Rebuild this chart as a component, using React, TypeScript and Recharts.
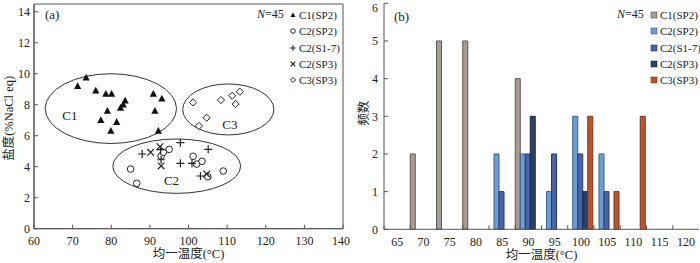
import React from "react";
import { ScatterChart, Scatter, XAxis, YAxis, ReferenceArea, ReferenceDot, BarChart, Bar } from "recharts";

const FONT = '"Liberation Serif", "Noto Sans CJK SC", serif';
const AXIS = "#555";
const INK = "#222";

// (a) homogenization temperature (°C) vs salinity (%NaCl eq)
const c1Sp2 = [
  { x: 71.3, y: 9.2 }, { x: 73.5, y: 9.74 }, { x: 76.0, y: 8.9 }, { x: 78.6, y: 8.69 },
  { x: 80.1, y: 8.69 }, { x: 83.6, y: 8.26 }, { x: 83.1, y: 8.0 }, { x: 82.4, y: 7.8 },
  { x: 79.0, y: 7.6 }, { x: 77.3, y: 7.0 }, { x: 81.4, y: 6.88 }, { x: 79.9, y: 6.3 },
  { x: 90.9, y: 8.69 }, { x: 93.1, y: 8.39 }, { x: 91.3, y: 7.6 }, { x: 92.2, y: 6.3 }
];
const c2Sp2 = [
  { x: 85.0, y: 3.85 }, { x: 86.6, y: 2.93 }, { x: 92.9, y: 4.69 }, { x: 93.5, y: 4.93 },
  { x: 95.0, y: 5.12 }, { x: 101.2, y: 4.67 }, { x: 102.1, y: 4.17 }, { x: 103.5, y: 4.35 },
  { x: 105.0, y: 3.35 }, { x: 109.0, y: 3.72 }
];
const c2S17 = [
  { x: 88.0, y: 4.82 }, { x: 92.9, y: 4.45 }, { x: 92.8, y: 5.1 }, { x: 97.9, y: 5.55 },
  { x: 97.9, y: 4.22 }, { x: 100.9, y: 4.22 }, { x: 105.1, y: 5.12 }, { x: 103.1, y: 3.4 }
];
const c2Sp3 = [
  { x: 90.2, y: 4.93 }, { x: 92.6, y: 5.29 }, { x: 92.9, y: 4.05 }, { x: 104.7, y: 3.53 }
];
const c3Sp3 = [
  { x: 101.2, y: 8.15 }, { x: 108.4, y: 8.3 }, { x: 111.3, y: 8.58 }, { x: 113.3, y: 8.84 },
  { x: 112.2, y: 8.05 }, { x: 104.7, y: 7.16 }, { x: 102.7, y: 6.63 }
];

// cluster outlines (bounding box in data units) and label spots
const clusters = [
  { name: "C1", x1: 62.9, x2: 96.9, y1: 5.5, y2: 10.0, lx: 69.3, ly: 7.3 },
  { name: "C2", x1: 80.4, x2: 113.5, y1: 2.28, y2: 5.79, lx: 95.6, ly: 3.14 },
  { name: "C3", x1: 98.5, x2: 122.1, y1: 6.05, y2: 9.34, lx: 110.7, ly: 6.7 }
];

const xTicksA = [60, 70, 80, 90, 100, 110, 120, 130, 140];
const yTicksA = [0, 2, 4, 6, 8, 10, 12, 14];

// (b) histogram counts per 5°C bin
const binLabels = ["65", "70", "75", "80", "85", "90", "95", "100", "105", "110", "115", "120"];
const c1Sp2Count = [0, 2, 5, 5, 0, 4, 0, 0, 0, 0, 0, 0];
const c2Sp2Count = [0, 0, 0, 0, 2, 2, 1, 3, 2, 0, 0, 0];
const c2S17Count = [0, 0, 0, 0, 1, 2, 2, 2, 1, 0, 0, 0];
const c2Sp3Count = [0, 0, 0, 0, 0, 3, 0, 1, 0, 0, 0, 0];
const c3Sp3Count = [0, 0, 0, 0, 0, 0, 0, 3, 1, 3, 0, 0];
const yTicksB = [0, 1, 2, 3, 4, 5, 6];

const histData = binLabels.map((bin, i) => ({
  bin,
  c1Sp2: c1Sp2Count[i],
  c2Sp2: c2Sp2Count[i],
  c2S17: c2S17Count[i],
  c2Sp3: c2Sp3Count[i],
  c3Sp3: c3Sp3Count[i]
}));

const BAR_SERIES = [
  { key: "c1Sp2", name: "C1(SP2)", fill: "#a59d98", stroke: "#5e5652" },
  { key: "c2Sp2", name: "C2(SP2)", fill: "#6c9ed6", stroke: "#3a5f8f" },
  { key: "c2S17", name: "C2(S1-7)", fill: "#4a63ad", stroke: "#2a3b6b" },
  { key: "c2Sp3", name: "C2(SP3)", fill: "#2b4168", stroke: "#1a2844" },
  { key: "c3Sp3", name: "C3(SP3)", fill: "#c2522a", stroke: "#7a3418" }
];

const tri = (cx: number, cy: number, s = 1) => (
  <path d={`M${cx},${cy - 4 * s}L${cx + 3.6 * s},${cy + 2.8 * s}L${cx - 3.6 * s},${cy + 2.8 * s}Z`} fill="#111" />
);
const ring = (cx: number, cy: number, s = 1) => (
  <circle cx={cx} cy={cy} r={3.3 * s} fill="#fff" stroke="#222" strokeWidth={1} />
);
const plus = (cx: number, cy: number, s = 1) => (
  <path d={`M${cx - 4 * s},${cy}H${cx + 4 * s}M${cx},${cy - 4 * s}V${cy + 4 * s}`} stroke="#222" strokeWidth={1.2} />
);
const cross = (cx: number, cy: number, s = 1) => (
  <path d={`M${cx - 3.3 * s},${cy - 3.3 * s}L${cx + 3.3 * s},${cy + 3.3 * s}M${cx + 3.3 * s},${cy - 3.3 * s}L${cx - 3.3 * s},${cy + 3.3 * s}`} stroke="#222" strokeWidth={1.2} />
);
const diamond = (cx: number, cy: number, s = 1) => (
  <path d={`M${cx},${cy - 3.6 * s}L${cx + 3.6 * s},${cy}L${cx},${cy + 3.6 * s}L${cx - 3.6 * s},${cy}Z`} fill="#fff" stroke="#222" strokeWidth={1} />
);

const SCATTER_SERIES = [
  { name: "C1(SP2)", data: c1Sp2, mark: tri },
  { name: "C2(SP2)", data: c2Sp2, mark: ring },
  { name: "C2(S1-7)", data: c2S17, mark: plus },
  { name: "C2(SP3)", data: c2Sp3, mark: cross },
  { name: "C3(SP3)", data: c3Sp3, mark: diamond }
];

const tickStyle = { fill: INK, fontSize: 12, fontFamily: FONT };
const textStyle: React.CSSProperties = { position: "absolute", fontFamily: FONT, color: INK, whiteSpace: "nowrap" };

const xTitle = ({ viewBox }: any) => (
  <text x={viewBox.x + viewBox.width / 2} y={viewBox.y + 25.5} textAnchor="middle" dominantBaseline="central" fontSize={12.5} fontFamily={FONT} fill={INK}>
    均一温度(°C)
  </text>
);

function ScatterPanel() {
  return (
    <ScatterChart width={350} height={263} margin={{ top: 4, right: 7, bottom: 4.3, left: 10 }}>
      <XAxis
        type="number"
        dataKey="x"
        domain={[60, 140]}
        ticks={xTicksA}
        height={30}
        tickSize={-4}
        tickMargin={12}
        stroke={AXIS}
        tick={tickStyle}
        label={{ content: xTitle }}
      />
      <YAxis
        type="number"
        dataKey="y"
        domain={[0, 14.5]}
        ticks={yTicksA}
        width={24}
        tickSize={-4}
        tickMargin={8}
        stroke={AXIS}
        tick={tickStyle}
        allowDataOverflow
        label={{
          content: ({ viewBox }: any) => (
            <text
              transform={`translate(${viewBox.x - 1},${viewBox.y + viewBox.height / 2 + 2}) rotate(-90)`}
              textAnchor="middle"
              dominantBaseline="central"
              fontSize={12.5}
              fontFamily={FONT}
              fill={INK}
            >
              盐度(%NaCl eq)
            </text>
          )
        }}
      />
      <ReferenceArea x1={60} x2={140} y1={0} y2={14.5} fill="none" stroke={AXIS} ifOverflow="visible" />
      {clusters.map((c) => (
        <ReferenceArea
          key={c.name}
          x1={c.x1}
          x2={c.x2}
          y1={c.y1}
          y2={c.y2}
          ifOverflow="visible"
          shape={(p: any) => (
            <ellipse cx={p.x + p.width / 2} cy={p.y + p.height / 2} rx={Math.abs(p.width) / 2} ry={Math.abs(p.height) / 2} fill="none" stroke="#333" strokeWidth={1} />
          )}
        />
      ))}
      {clusters.map((c) => (
        <ReferenceDot
          key={c.name + "-label"}
          x={c.lx}
          y={c.ly}
          shape={(p: any) => (
            <text x={p.cx} y={p.cy} textAnchor="middle" dominantBaseline="central" fontSize={13} fontFamily={FONT} fill={INK}>
              {c.name}
            </text>
          )}
        />
      ))}
      {SCATTER_SERIES.map((s) => (
        <Scatter key={s.name} name={s.name} data={s.data} isAnimationActive={false} shape={(p: any) => s.mark(p.cx, p.cy)} />
      ))}
    </ScatterChart>
  );
}

const PLOT_W_B = 350 - 34 - 1;
const BAND = PLOT_W_B / binLabels.length;

function BinTick(props: any) {
  const { x, y, payload } = props;
  const axisY = y - 8;
  return (
    <g>
      <line x1={x - BAND / 2} x2={x - BAND / 2} y1={axisY} y2={axisY - 4} stroke={AXIS} />
      <text x={x} y={y} dy="0.71em" textAnchor="middle" fontSize={12} fontFamily={FONT} fill={INK}>
        {payload.value}
      </text>
    </g>
  );
}

function HistPanel() {
  return (
    <BarChart width={350} height={263} data={histData} margin={{ top: 3.3, right: 1, bottom: 3.7, left: 10 }} barCategoryGap={0} barGap={0}>
      <XAxis
        dataKey="bin"
        height={30}
        tickLine={false}
        tickSize={0}
        tickMargin={8}
        stroke={AXIS}
        interval={0}
        tick={<BinTick />}
        label={{ content: xTitle }}
      />
      <XAxis xAxisId="top" dataKey="bin" orientation="top" height={0} tick={false} tickLine={false} stroke={AXIS} />
      <YAxis
        domain={[0, 6]}
        ticks={yTicksB}
        width={24}
        tickSize={-4}
        tickMargin={10}
        stroke={AXIS}
        tick={tickStyle}
        label={{
          content: ({ viewBox }: any) => (
            <text
              transform={`translate(${viewBox.x + 4},${viewBox.y + 110}) rotate(-90)`}
              textAnchor="middle"
              dominantBaseline="central"
              fontSize={12.5}
              fontFamily={FONT}
              fill={INK}
            >
              频数
            </text>
          )
        }}
      />
      <YAxis yAxisId="r" orientation="right" width={0} tick={false} tickLine={false} stroke={AXIS} />
      {BAR_SERIES.map((s) => (
        <Bar key={s.key} dataKey={s.key} name={s.name} fill={s.fill} stroke={s.stroke} strokeWidth={1} isAnimationActive={false} />
      ))}
    </BarChart>
  );
}

function LegendBox({ left, items }: { left: number; items: { name: string; icon: React.ReactNode }[] }) {
  return (
    <div style={{ ...textStyle, left, top: 7, fontSize: 11, lineHeight: "16.3px" }}>
      {items.map((it) => (
        <div key={it.name} style={{ display: "flex", alignItems: "center", height: 16.3 }}>
          <svg width={8} height={10} style={{ marginRight: 2 }}>
            {it.icon}
          </svg>
          <span>{it.name}</span>
        </div>
      ))}
    </div>
  );
}

export default function App() {
  return (
    <div style={{ position: "absolute", left: 0, top: 0, width: 700, height: 263, background: "#fff" }}>
      <div style={{ position: "absolute", left: 0, top: 0 }}>
        <ScatterPanel />
      </div>
      <div style={{ position: "absolute", left: 350, top: 0 }}>
        <HistPanel />
      </div>
      <div style={{ ...textStyle, left: 45, top: 7, fontSize: 13 }}>(a)</div>
      <div style={{ ...textStyle, left: 394, top: 9, fontSize: 13 }}>(b)</div>
      <div style={{ ...textStyle, left: 257, top: 7, fontSize: 12 }}>
        <i>N</i>=45
      </div>
      <div style={{ ...textStyle, left: 617, top: 7, fontSize: 12 }}>
        <i>N</i>=45
      </div>
      <LegendBox left={289} items={SCATTER_SERIES.map((s) => ({ name: s.name, icon: s.mark(4, 5, 0.7) }))} />
      <LegendBox
        left={650}
        items={BAR_SERIES.map((s) => ({ name: s.name, icon: <rect x={1} y={2} width={6} height={6} fill={s.fill} stroke={s.stroke} strokeWidth={0.6} /> }))}
      />
    </div>
  );
}
